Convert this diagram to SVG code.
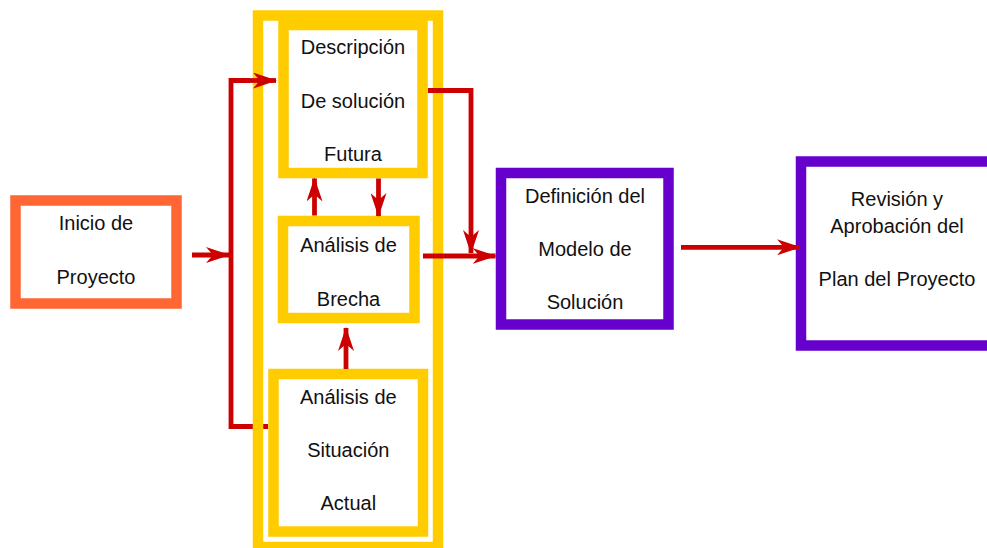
<svg xmlns="http://www.w3.org/2000/svg" width="987" height="548" viewBox="0 0 987 548">
  <style>
    .box { fill: #FFFFFF; stroke-width: 10.5; }
    .orange { stroke: #FF6633; }
    .yellow { stroke: #FFCC00; }
    .purple { stroke: #6600CC; }
    .frame { fill: none; stroke: #FFCC00; stroke-width: 10.5; }
    .link { fill: none; stroke: #CC0000; stroke-width: 4.8; stroke-linejoin: miter; }
    .arrow { marker-end: url(#head); }
    text { font-family: "Liberation Sans", Arial, sans-serif; font-size: 20px; fill: #111111; text-anchor: middle; }
  </style>
  <defs>
    <marker id="head" markerUnits="userSpaceOnUse" viewBox="0 0 24 16" refX="23" refY="8" markerWidth="24" markerHeight="16" orient="auto">
      <path d="M0,0 L24,8 L0,16 L7,8 Z" fill="#CC0000"/>
    </marker>
  </defs>

  <rect width="987" height="548" fill="#FFFFFF"/>

  <!-- feedback line from Situación Actual, drawn below the frame -->
  <g id="connectors-back">
    <path class="link" d="M268,426.5 H231 V80.5 H250"/>
  </g>

  <!-- frame grouping the three analysis steps -->
  <g id="analysis-frame">
    <rect class="frame" x="258" y="15.5" width="180" height="531.5"/>
  </g>

  <g id="inicio">
    <rect class="box orange" x="15.5" y="200.5" width="161" height="103"/>
    <text x="96" y="229.5">Inicio de</text>
    <text x="96" y="283.5">Proyecto</text>
  </g>

  <g id="descripcion">
    <rect class="box yellow" x="283.5" y="25" width="139" height="148"/>
    <text x="353" y="54.3">Descripción</text>
    <text x="353" y="107.6">De solución</text>
    <text x="353" y="161">Futura</text>
  </g>

  <g id="brecha">
    <rect class="box yellow" x="283" y="221" width="131.5" height="97"/>
    <text x="348.5" y="252">Análisis de</text>
    <text x="348.5" y="306">Brecha</text>
  </g>

  <g id="situacion">
    <rect class="box yellow" x="273.5" y="374" width="149.5" height="157.5"/>
    <text x="348.3" y="404">Análisis de</text>
    <text x="348.3" y="457.3">Situación</text>
    <text x="348.3" y="510">Actual</text>
  </g>

  <g id="definicion">
    <rect class="box purple" x="501" y="173" width="167.5" height="151.5"/>
    <text x="585" y="203.3">Definición del</text>
    <text x="585" y="256">Modelo de</text>
    <text x="585" y="309.3">Solución</text>
  </g>

  <g id="revision">
    <rect class="box purple" x="801" y="161.5" width="192" height="184"/>
    <text x="897" y="206">Revisión y</text>
    <text x="897" y="232.6">Aprobación del</text>
    <text x="897" y="286">Plan del Proyecto</text>
  </g>

  <g id="connectors">
    <line class="link arrow" x1="192" y1="255" x2="229" y2="255"/>
    <line class="link arrow" x1="249" y1="80.5" x2="276" y2="80.5"/>
    <line class="link arrow" x1="314.5" y1="215.5" x2="314.5" y2="178.5"/>
    <line class="link arrow" x1="378.5" y1="178.5" x2="378.5" y2="216"/>
    <line class="link arrow" x1="346" y1="369" x2="346" y2="328"/>
    <path class="link arrow" d="M428,90.5 H471 V253"/>
    <line class="link arrow" x1="423" y1="256" x2="495.5" y2="256"/>
    <line class="link arrow" x1="681" y1="247.3" x2="800" y2="247.3"/>
  </g>
</svg>
